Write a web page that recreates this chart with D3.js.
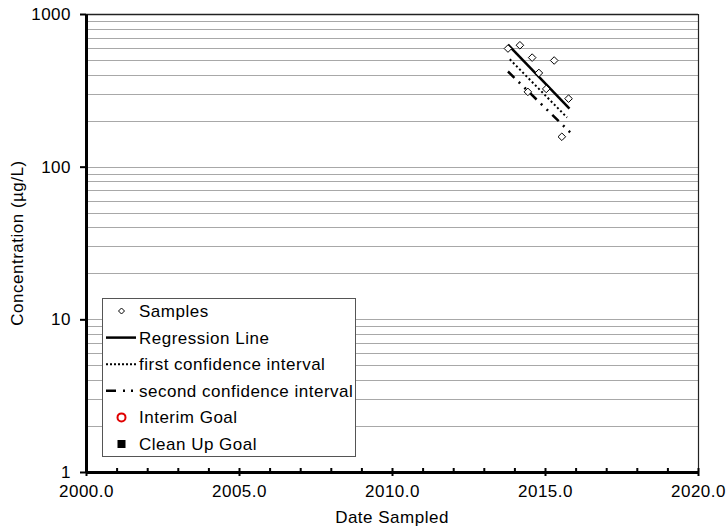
<!DOCTYPE html>
<html>
<head>
<meta charset="utf-8">
<script src="https://cdn.jsdelivr.net/npm/d3@7"></script>
<style>
  html, body { margin: 0; padding: 0; background: #fff; }
  svg { display: block; font-family: "Liberation Sans", Arial, sans-serif; }
  svg text { letter-spacing: 0.5px; }
</style>
</head>
<body>
<svg id="chart" width="728" height="532"></svg>
<script>
// Sample results (decimal year, concentration in µg/L)
const sampleDates  = [2013.79, 2014.18, 2014.44, 2014.58, 2014.80, 2015.04, 2015.30, 2015.55, 2015.77];
const sampleValues = [594, 624, 309, 518, 411, 323, 496, 157, 279];

// Trend line and lower confidence limits, given by their end points
const trendDates       = [2013.79, 2015.80];
const regressionValues = [630, 240];
const firstCIDates     = [2013.85, 2015.72];
const firstCIValues    = [505, 210];
const secondCIDates    = [2013.79, 2015.82];
const secondCIValues   = [420, 168];

// Axis ticks
const xMajorTicks = [2000, 2005, 2010, 2015, 2020];
const xMinorTicks = d3.range(2000, 2021, 1);
const yMajorTicks = [1, 10, 100, 1000];

const legendLabels = ["Samples", "Regression Line", "first confidence interval",
                      "second confidence interval", "Interim Goal", "Clean Up Goal"];

const svg = d3.select("#chart");
const pLeft = 86, pRight = 698, pTop = 14, pBottom = 472;

const x = d3.scaleLinear().domain([2000, 2020]).range([pLeft, pRight]);
const y = d3.scaleLog().domain([1, 1000]).range([pBottom, pTop]);

// Horizontal gridlines on every log step
const gridVals = [];
for (const base of [1, 10, 100]) {
  for (let k = 2; k <= 10; k++) gridVals.push(base * k);
}
svg.append("g").selectAll("line").data(gridVals.filter(v => v < 1000)).join("line")
  .attr("x1", pLeft).attr("x2", pRight)
  .attr("y1", d => Math.round(y(d)) + 0.5).attr("y2", d => Math.round(y(d)) + 0.5)
  .attr("stroke", "#a8a8a8").attr("stroke-width", 1);

// Plot frame: top and right edges
svg.append("line").attr("x1", pLeft).attr("x2", pRight).attr("y1", pTop + 0.5).attr("y2", pTop + 0.5)
  .attr("stroke", "#222").attr("stroke-width", 1.5);
svg.append("line").attr("x1", pRight + 0.5).attr("x2", pRight + 0.5).attr("y1", pTop).attr("y2", pBottom)
  .attr("stroke", "#222").attr("stroke-width", 1.2);

// X axis: labelled major ticks below, yearly ticks above
const xAxisBottom = d3.axisBottom(x).tickValues(xMajorTicks)
  .tickFormat(d3.format(".1f")).tickSizeInner(4).tickSizeOuter(0).tickPadding(9);
const gx = svg.append("g").attr("transform", `translate(0,${pBottom})`).call(xAxisBottom);
gx.select(".domain").attr("stroke", "#000").attr("stroke-width", 3);
gx.selectAll(".tick line").attr("stroke", "#000").attr("stroke-width", 2);
gx.selectAll(".tick text").attr("font-size", 17).attr("fill", "#000")
  .attr("font-family", "Liberation Sans, Arial, sans-serif");

const xAxisTop = d3.axisTop(x).tickValues(xMinorTicks).tickFormat("").tickSizeInner(4).tickSizeOuter(0);
const gxm = svg.append("g").attr("transform", `translate(0,${pBottom})`).call(xAxisTop);
gxm.select(".domain").remove();
gxm.selectAll(".tick line").attr("stroke", "#000").attr("stroke-width", 2);

// Y axis
const yAxis = d3.axisLeft(y).tickValues(yMajorTicks).tickFormat(d3.format("d"))
  .tickSizeInner(6).tickSizeOuter(0).tickPadding(9);
const gy = svg.append("g").attr("transform", `translate(${pLeft},0)`).call(yAxis);
gy.select(".domain").attr("stroke", "#000").attr("stroke-width", 3);
gy.selectAll(".tick line").attr("stroke", "#000").attr("stroke-width", 2);
gy.selectAll(".tick text").attr("font-size", 17).attr("fill", "#000")
  .attr("font-family", "Liberation Sans, Arial, sans-serif");

// Axis titles
svg.append("text").attr("x", (pLeft + pRight) / 2).attr("y", 523)
  .attr("text-anchor", "middle").attr("font-size", 17).text("Date Sampled");
svg.append("text").attr("transform", `translate(23,${(pTop + pBottom) / 2}) rotate(-90)`)
  .attr("text-anchor", "middle").attr("font-size", 17).text("Concentration (µg/L)");

// Trend lines
const line = d3.line().x(d => x(d[0])).y(d => y(d[1]));
const plot = svg.append("g");
plot.append("path").attr("d", line(d3.zip(secondCIDates, secondCIValues)))
  .attr("fill", "none").attr("stroke", "#000").attr("stroke-width", 2.5)
  .attr("stroke-dasharray", "9,6,2,6,2,6");
plot.append("path").attr("d", line(d3.zip(firstCIDates, firstCIValues)))
  .attr("fill", "none").attr("stroke", "#000").attr("stroke-width", 2)
  .attr("stroke-dasharray", "2,2.5");
plot.append("path").attr("d", line(d3.zip(trendDates, regressionValues)))
  .attr("fill", "none").attr("stroke", "#000").attr("stroke-width", 2.5);

// Sample markers (diamonds)
const diamond = "M0,-3.8L3.8,0L0,3.8L-3.8,0Z";
plot.selectAll("path.sample").data(d3.zip(sampleDates, sampleValues)).join("path")
  .attr("class", "sample")
  .attr("transform", d => `translate(${x(d[0])},${y(d[1])})`)
  .attr("d", diamond).attr("fill", "#fff").attr("stroke", "#000").attr("stroke-width", 1);

// Legend
const lg = svg.append("g");
lg.append("rect").attr("x", 102.5).attr("y", 298.5).attr("width", 253).attr("height", 158)
  .attr("fill", "#fff").attr("stroke", "#555").attr("stroke-width", 1);
const rowY = i => 311 + i * 26.6;
const symX = 121.5;
lg.selectAll("text").data(legendLabels).join("text")
  .attr("x", 139).attr("y", (d, i) => rowY(i) + 6)
  .attr("font-size", 17).attr("fill", "#000").text(d => d);
lg.append("path").attr("transform", `translate(${symX},${rowY(0)})`)
  .attr("d", "M0,-3L3,0L0,3L-3,0Z").attr("fill", "#fff").attr("stroke", "#000").attr("stroke-width", 1);
lg.append("line").attr("x1", 106).attr("x2", 136).attr("y1", rowY(1)).attr("y2", rowY(1))
  .attr("stroke", "#000").attr("stroke-width", 2.5);
lg.append("line").attr("x1", 106).attr("x2", 137).attr("y1", rowY(2)).attr("y2", rowY(2))
  .attr("stroke", "#000").attr("stroke-width", 2).attr("stroke-dasharray", "2,2");
lg.append("line").attr("x1", 106).attr("x2", 138).attr("y1", rowY(3)).attr("y2", rowY(3))
  .attr("stroke", "#000").attr("stroke-width", 2.5).attr("stroke-dasharray", "10,7,2,6,2,6");
lg.append("circle").attr("cx", symX).attr("cy", rowY(4)).attr("r", 4)
  .attr("fill", "#fff").attr("stroke", "#e00000").attr("stroke-width", 2);
lg.append("rect").attr("x", symX - 4).attr("y", rowY(5) - 4).attr("width", 8).attr("height", 8)
  .attr("fill", "#000");
</script>
</body>
</html>
